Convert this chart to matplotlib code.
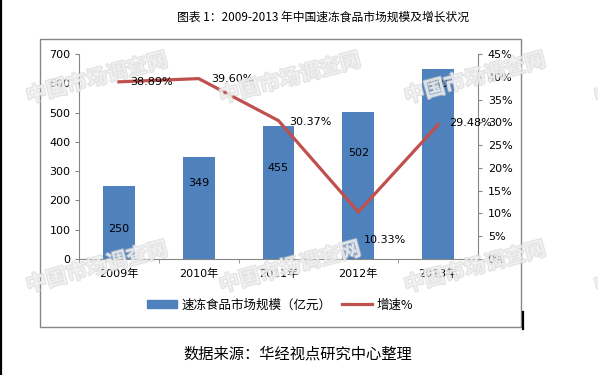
import matplotlib
matplotlib.use('Agg')
import matplotlib.pyplot as plt
import matplotlib.patheffects as pe
from matplotlib.patches import Rectangle
from matplotlib.lines import Line2D
import numpy as np

plt.rcParams['font.family'] = ['DejaVu Sans', 'Noto Sans CJK SC']

years = ['2009年', '2010年', '2011年', '2012年', '2013年']
market_size = [250, 349, 455, 502, 650]        # 亿元
growth = [38.89, 39.60, 30.37, 10.33, 29.48]    # %

# label placement (pixels) - hand tuned like the original
bar_label_drop = [43, 26, 42, 41, 15]
line_label_off = [(33, 0), (34, 0), (32, -1), (27, -28), (32, 2)]

bar_color = '#4F81BD'
line_color = '#C0504D'
axis_gray = '#868686'
cjk = ['Noto Sans CJK SC', 'DejaVu Sans']

W, H = 598, 375
fig = plt.figure(figsize=(W / 100, H / 100), dpi=100)

def fx(px):
    return px / W

def fy(py):
    return 1 - py / H

# outer chart frame
fig.patches.append(Rectangle((fx(40), fy(327)), fx(521) - fx(40), fy(39) - fy(327),
                             transform=fig.transFigure, fill=False,
                             edgecolor=axis_gray, linewidth=1))
# black edge at left and cursor mark
fig.add_artist(Line2D([fx(1), fx(1)], [0, 1], transform=fig.transFigure,
                      color='black', linewidth=1.6))
fig.add_artist(Line2D([fx(522.5), fx(522.5)], [fy(329), fy(312)], transform=fig.transFigure,
                      color='black', linewidth=1.6))

ax = fig.add_axes([fx(79), fy(259), fx(478) - fx(79), fy(54) - fy(259)])
x = np.arange(len(years))
bars = ax.bar(x, market_size, 0.4, color=bar_color, zorder=2)
ax.set_xlim(-0.5, len(years) - 0.5)
ax.set_ylim(0, 700)
ax.set_yticks(np.arange(0, 701, 100))
ax.set_xticks(x)
ax.set_xticklabels(years, fontsize=8)
ax.set_xticks(np.arange(-0.5, len(years), 1), minor=True)
ax.tick_params(axis='x', which='major', length=0, pad=7)
ax.tick_params(axis='x', which='minor', length=3, direction='out', color=axis_gray)
ax.tick_params(axis='y', length=3, direction='out', color=axis_gray, labelsize=8, pad=3)
for s in ['top', 'right']:
    ax.spines[s].set_visible(False)
for s in ['left', 'bottom']:
    ax.spines[s].set_color(axis_gray)

for xi, v, d in zip(x, market_size, bar_label_drop):
    ax.annotate(str(v), (xi, v), xytext=(0, -d * 0.72), textcoords='offset points',
                ha='center', va='center', fontsize=8)

ax2 = ax.twinx()
ax2.plot(x, growth, color=line_color, linewidth=2.3, zorder=3)
ax2.set_ylim(0, 45)
ax2.set_yticks(np.arange(0, 46, 5))
ax2.set_yticklabels([f'{t}%' for t in range(0, 46, 5)])
ax2.tick_params(axis='y', length=3, direction='out', color=axis_gray, labelsize=8, pad=4)
for s in ['top', 'left', 'bottom']:
    ax2.spines[s].set_visible(False)
ax2.spines['right'].set_color(axis_gray)

for xi, g, (dx, dy) in zip(x, growth, line_label_off):
    ax2.annotate(f'{g:.2f}%', (xi, g), xytext=(dx * 0.72, dy * 0.72), textcoords='offset points',
                 ha='center', va='center', fontsize=8)

# legend
handles = [Rectangle((0, 0), 1, 1, color=bar_color),
           Line2D([], [], color=line_color, linewidth=2.3)]
fig.legend(handles, ['速冻食品市场规模（亿元）', '增速%'], loc='center',
           bbox_to_anchor=(fx(280), fy(305)), ncol=2, frameon=False,
           prop={'family': cjk, 'size': 9}, handlelength=2.4, handleheight=0.6,
           columnspacing=0.8, handletextpad=0.4)

fig.text(fx(323), fy(17), '图表 1：2009-2013 年中国速冻食品市场规模及增长状况',
         ha='center', va='center', fontsize=8.5, family=cjk)
fig.text(fx(298), fy(354), '数据来源：华经视点研究中心整理',
         ha='center', va='center', fontsize=11, family=cjk)

# watermarks
for cy in [78, 267]:
    for cx in [97, 290, 475, 665]:
        fig.text(fx(cx), fy(cy), '中国市场调查网', ha='center', va='center',
                 rotation=15, fontsize=15, weight='bold', family=cjk,
                 color='#f6f6f6', alpha=0.6, zorder=20,
                 path_effects=[pe.withStroke(linewidth=1.4, foreground='#d0d0d0')])

fig.savefig('out.png', dpi=100)
